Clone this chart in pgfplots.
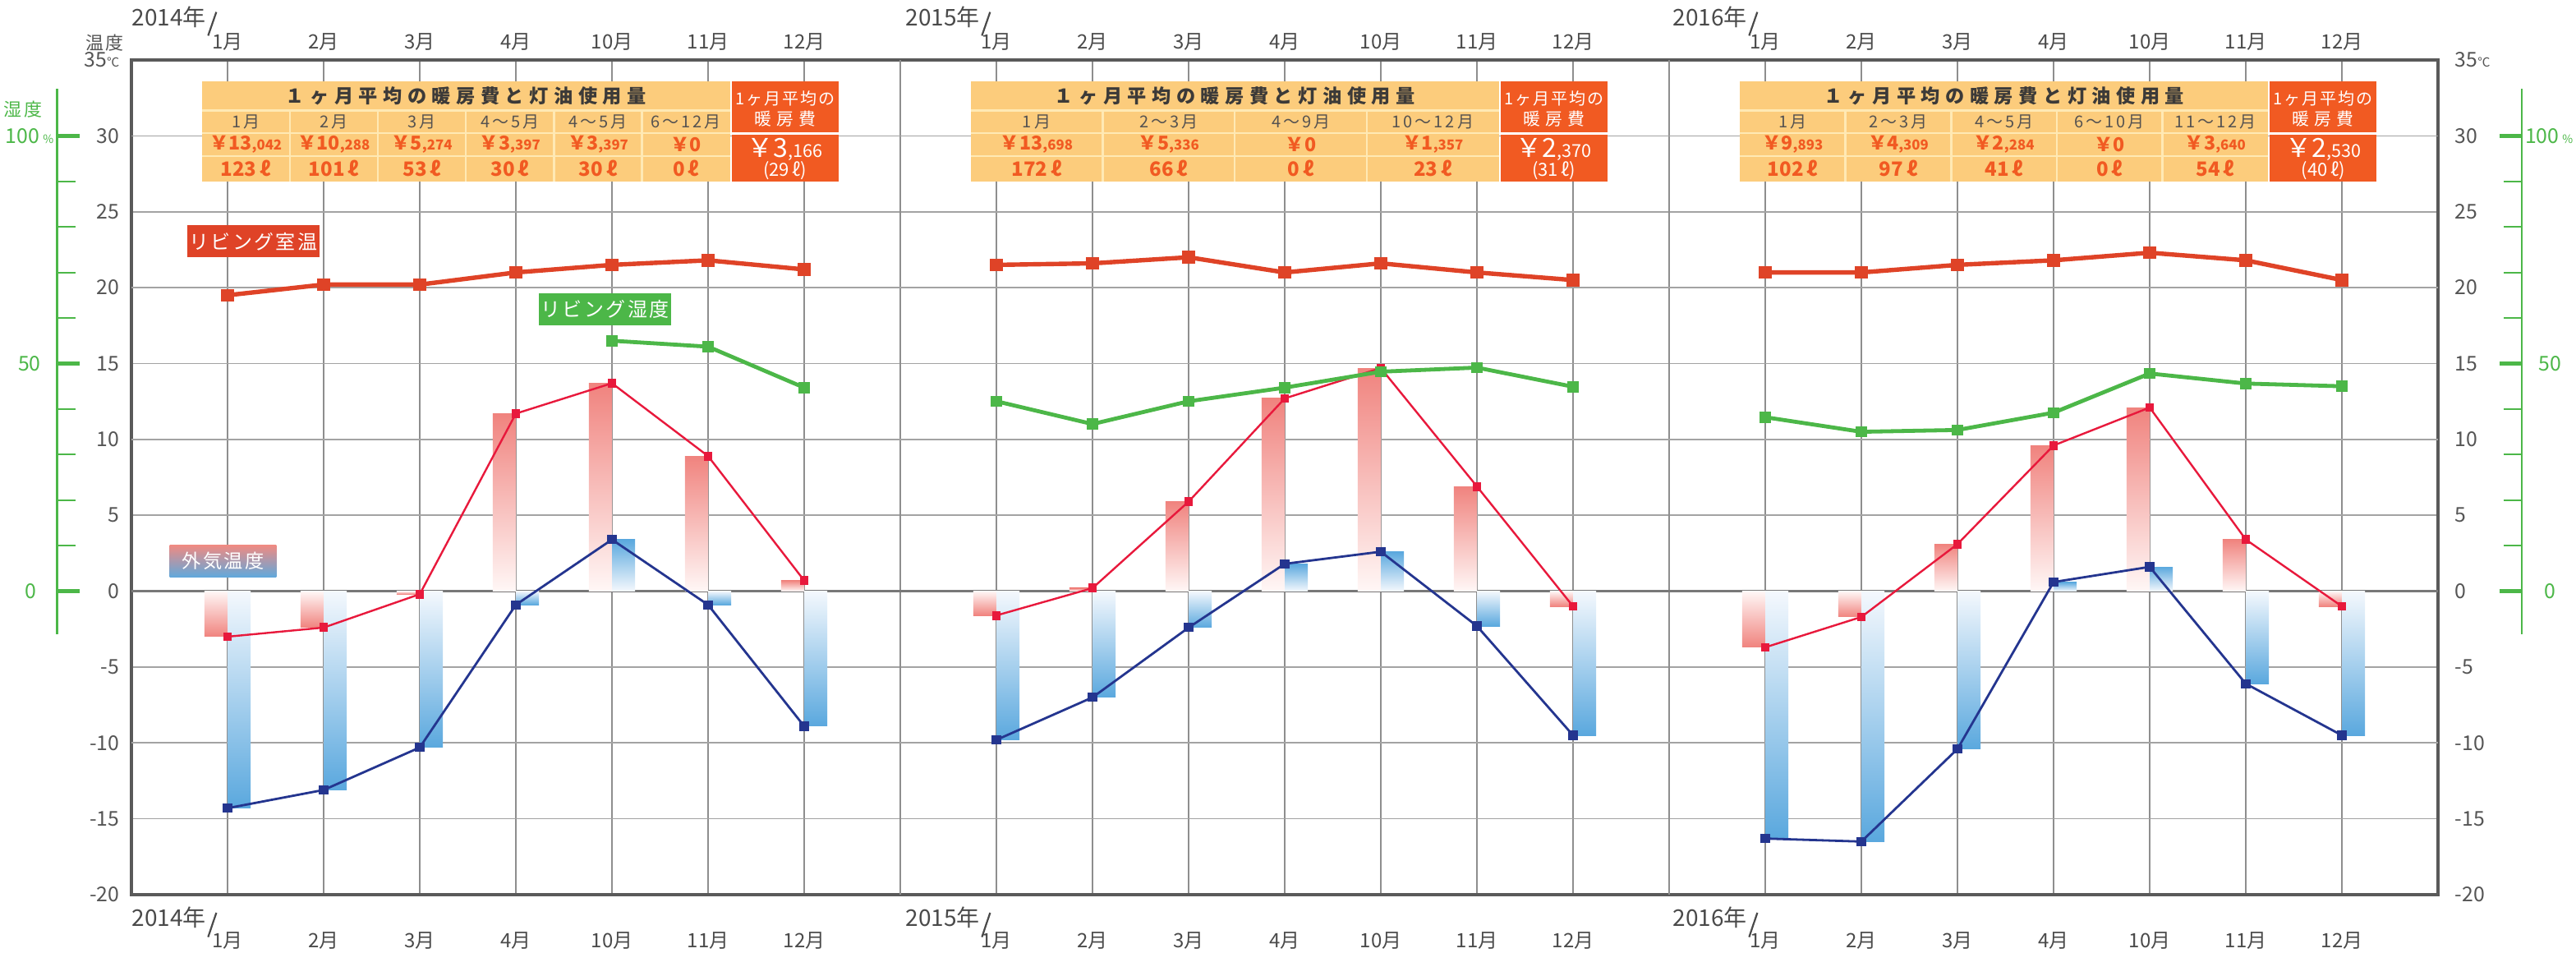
\documentclass[border=0pt]{standalone}
\usepackage{pgfplots}
\pgfplotsset{compat=1.18}
\usepackage{pgfplotstable}
\usepackage{fontspec}
\setmainfont{Noto Sans CJK JP}
\newfontfamily\jpls[LetterSpace=10]{Noto Sans CJK JP}
\newfontfamily\jptitle[LetterSpace=28]{Noto Sans CJK JP}
\newfontfamily\jpwide[LetterSpace=30]{Noto Sans CJK JP}
\newfontfamily\jpsp[LetterSpace=15]{Noto Sans CJK JP}

\definecolor{roomc}{HTML}{DF4327}
\definecolor{humc}{HTML}{4CB748}
\definecolor{hic}{HTML}{E8193C}
\definecolor{loc}{HTML}{24358F}
\definecolor{rbar}{HTML}{F0837E}
\definecolor{rbarl}{HTML}{FFF7F6}
\definecolor{bbar}{HTML}{5AA8DE}
\definecolor{bbarl}{HTML}{F4F8FD}
\definecolor{tan}{HTML}{FCCC7C}
\definecolor{tanl}{HTML}{FFE9B4}
\definecolor{dor}{HTML}{F15A22}
\definecolor{titlec}{HTML}{3C3A38}
\definecolor{headc}{HTML}{555250}
\definecolor{tickc}{HTML}{555555}
\definecolor{monc}{HTML}{4A4A4A}
\definecolor{gridc}{HTML}{8E8E8E}
\definecolor{gridl}{HTML}{A3A3A3}
\definecolor{gridd}{HTML}{787878}
\definecolor{framec}{HTML}{5A5A5A}
\definecolor{gradr}{HTML}{F08A82}
\definecolor{gradb}{HTML}{5EA9DD}

\tikzset{
 rpos/.style={top color=rbar, bottom color=rbarl},
 rneg/.style={top color=rbarl, bottom color=rbar},
 bpos/.style={top color=bbar, bottom color=bbarl},
 bneg/.style={top color=bbarl, bottom color=bbar},
}

% x: month slot, room: living room temp, hi/lo: outdoor temps, hum: living humidity (%)
\pgfplotstableread{
x room hi lo hum
1 19.5 -3.0 -14.3 nan
2 20.2 -2.4 -13.1 nan
3 20.2 -0.2 -10.3 nan
4 21.0 11.7 -0.9 nan
5 21.5 13.7 3.4 55.0
6 21.8 8.9 -0.9 53.7
7 21.2 0.7 -8.9 44.7
}\dA
\pgfplotstableread{
x room hi lo hum
9 21.5 -1.6 -9.8 41.7
10 21.6 0.2 -7.0 36.7
11 22.0 5.9 -2.4 41.7
12 21.0 12.7 1.8 44.7
13 21.6 14.7 2.6 48.2
14 21.0 6.9 -2.3 49.1
15 20.5 -1.0 -9.5 44.9
}\dB
\pgfplotstableread{
x room hi lo hum
17 21.0 -3.7 -16.3 38.2
18 21.0 -1.7 -16.5 35.0
19 21.5 3.1 -10.4 35.4
20 21.8 9.6 0.6 39.2
21 22.3 12.1 1.6 47.8
22 21.8 3.4 -6.1 45.6
23 20.5 -1.0 -9.5 45.0
}\dC

% one shaded bar pair per month: #2 is an x range that picks that row
\newcommand{\Bars}[4]{%
 \addplot[ybar, bar width=0.24, bar shift=-0.12, draw=none, restrict x to domain=#2, #3] table[x=x,y=hi]{#1};
 \addplot[ybar, bar width=0.24, bar shift=0.12, draw=none, restrict x to domain=#2, #4] table[x=x,y=lo]{#1};
}

\newcommand{\InfoBox}[6]{%
\begin{scope}[shift={(#1)}]
 \fill[tan] (0,0) rectangle (160.8pt,-30.5pt);
 \fill[dor] (161.3pt,0) rectangle (193.8pt,-30.5pt);
 \draw[tanl, line width=0.6pt] (0,-8.9pt) -- (160.8pt,-8.9pt) (0,-15.85pt) -- (160.8pt,-15.85pt) (0,-22.8pt) -- (160.8pt,-22.8pt);
 \draw[white, line width=0.7pt] (161.3pt,-15.85pt) -- (193.8pt,-15.85pt);
 \node[text=titlec, inner sep=0pt, font=\jptitle\bfseries\fontsize{5.8}{6}\selectfont] at (80.4pt,-4.45pt) {１ヶ月平均の暖房費と灯油使用量};
 \foreach \h/\a/\b/\l [count=\i] in {#3} {
   \pgfmathsetmacro{\xc}{(\i-0.5)*#2}
   \pgfmathsetmacro{\xs}{(\i-1)*#2}
   \ifnum\i>1 \draw[tanl, line width=0.6pt] (\xs pt,-8.9pt) -- (\xs pt,-30.5pt);\fi
   \node[text=headc, inner sep=0pt, font=\jpsp\fontsize{5}{5}\selectfont] at (\xc pt,-12.4pt) {\h};
   \node[text=dor, inner sep=0pt, font=\bfseries\fontsize{5.8}{6}\selectfont] at (\xc pt,-19.3pt) {￥\a{\fontsize{4.2}{5}\selectfont\b}};
   \node[text=dor, inner sep=0pt, font=\bfseries\fontsize{6}{6}\selectfont] at (\xc pt,-26.6pt) {\l\,ℓ};
 }
 \node[text=white, inner sep=0pt, font=\jpls\fontsize{5}{5}\selectfont] at (177.55pt,-5.25pt) {1ヶ月平均の};
 \node[text=white, inner sep=0pt, font=\jpwide\fontsize{5.2}{5}\selectfont] at (177.55pt,-11.5pt) {暖房費};
 \node[text=white, inner sep=0pt, font=\fontsize{8}{8}\selectfont] at (177.55pt,-20.75pt) {￥#4{\fontsize{5.4}{5}\selectfont #5}};
 \node[text=white, inner sep=0pt, font=\fontsize{5.5}{6}\selectfont] at (177.55pt,-27.25pt) {(#6\,ℓ)};
\end{scope}}

\pgfplotsset{base/.style={at={(0,0)}, anchor=south west, scale only axis,
  width=702pt, height=254pt, xmin=0, xmax=24, ymin=-20, ymax=35,
  tick style={draw=none}, major tick length=0pt,
  ticklabel style={font=\fontsize{6.2}{7}\selectfont, text=tickc}}}

\begin{document}
\begin{tikzpicture}
\path[use as bounding box] (-40pt,-17.5pt) rectangle (744pt,272.25pt);

% ---------- main axis ----------
\begin{axis}[base, clip=false,
  axis line style={framec, line width=0.8pt},
  xtick={1,2,3,4,5,6,7,9,10,11,12,13,14,15,17,18,19,20,21,22,23},
  xticklabels={1月,2月,3月,4月,10月,11月,12月,1月,2月,3月,4月,10月,11月,12月,1月,2月,3月,4月,10月,11月,12月},
  xticklabel style={anchor=center, yshift=-14pt, font=\fontsize{6}{7}\selectfont, text=monc},
  ytick={-20,-15,-10,-5,0,5,10,15,20,25,30,35},
  yticklabels={-20,-15,-10,-5,0,5,10,15,20,25,30,{35{\fontsize{3.8}{4}\selectfont ℃}}},
  yticklabel style={anchor=east, inner sep=0pt, xshift=-3.5pt},
  xmajorgrids, ymajorgrids,
  x grid style={gridc, line width=0.35pt},
  y grid style={gridl, line width=0.4pt},
  extra x ticks={8,16}, extra x tick labels={}, extra x tick style={grid style={framec, line width=0.6pt}},
  extra y ticks={-10,10,20,30}, extra y tick labels={}, extra y tick style={grid style={gridd, line width=0.4pt}},
]
\draw[gridd, line width=0.75pt] (axis cs:0,0) -- (axis cs:24,0);
\Bars{\dA}{0.9:1.1}{rneg}{bneg}
\Bars{\dA}{1.9:2.1}{rneg}{bneg}
\Bars{\dA}{2.9:3.1}{rneg}{bneg}
\Bars{\dA}{3.9:4.1}{rpos}{bneg}
\Bars{\dA}{4.9:5.1}{rpos}{bpos}
\Bars{\dA}{5.9:6.1}{rpos}{bneg}
\Bars{\dA}{6.9:7.1}{rpos}{bneg}
\Bars{\dB}{8.9:9.1}{rneg}{bneg}
\Bars{\dB}{9.9:10.1}{rpos}{bneg}
\Bars{\dB}{10.9:11.1}{rpos}{bneg}
\Bars{\dB}{11.9:12.1}{rpos}{bpos}
\Bars{\dB}{12.9:13.1}{rpos}{bpos}
\Bars{\dB}{13.9:14.1}{rpos}{bneg}
\Bars{\dB}{14.9:15.1}{rneg}{bneg}
\Bars{\dC}{16.9:17.1}{rneg}{bneg}
\Bars{\dC}{17.9:18.1}{rneg}{bneg}
\Bars{\dC}{18.9:19.1}{rpos}{bneg}
\Bars{\dC}{19.9:20.1}{rpos}{bpos}
\Bars{\dC}{20.9:21.1}{rpos}{bpos}
\Bars{\dC}{21.9:22.1}{rpos}{bneg}
\Bars{\dC}{22.9:23.1}{rneg}{bneg}

\addplot[hic, line width=0.6pt, mark=square*, mark size=1.05pt] table[x=x,y=hi]{\dA};
\addplot[hic, line width=0.6pt, mark=square*, mark size=1.05pt] table[x=x,y=hi]{\dB};
\addplot[hic, line width=0.6pt, mark=square*, mark size=1.05pt] table[x=x,y=hi]{\dC};
\addplot[loc, line width=0.7pt, mark=square*, mark size=1.05pt] table[x=x,y=lo]{\dA};
\addplot[loc, line width=0.7pt, mark=square*, mark size=1.05pt] table[x=x,y=lo]{\dB};
\addplot[loc, line width=0.7pt, mark=square*, mark size=1.05pt] table[x=x,y=lo]{\dC};
\addplot[roomc, line width=1.35pt, mark=square*, mark size=1.25pt] table[x=x,y=room]{\dA};
\addplot[roomc, line width=1.35pt, mark=square*, mark size=1.25pt] table[x=x,y=room]{\dB};
\addplot[roomc, line width=1.35pt, mark=square*, mark size=1.25pt] table[x=x,y=room]{\dC};

\node[fill=roomc, text=white, inner sep=0pt, minimum width=40.3pt, minimum height=9.8pt, font=\jpls\fontsize{6}{6}\selectfont] at (axis cs:1.268,23.05) {リビング室温};
\node[fill=humc, text=white, inner sep=0pt, minimum width=40.3pt, minimum height=9.9pt, font=\jpls\fontsize{6}{6}\selectfont] at (axis cs:4.928,18.57) {リビング湿度};
\node[top color=gradr, bottom color=gradb, text=white, inner sep=0pt, minimum width=32.4pt, minimum height=9.9pt, font=\jpls\fontsize{5.8}{6}\selectfont] at (axis cs:0.953,1.97) {外気温度};

\coordinate (b1) at (axis cs:0.7316,33.6);
\coordinate (b2) at (axis cs:8.7316,33.6);
\coordinate (b3) at (axis cs:16.735,33.6);

% year labels top and bottom
\node[anchor=base west, inner sep=0pt, text=monc, font=\fontsize{7}{7}\selectfont] (t1) at ([yshift=10.4pt]axis cs:0,35) {2014年};
\node[anchor=base west, inner sep=0pt, text=monc, font=\fontsize{7}{7}\selectfont] (t2) at ([xshift=1.5pt,yshift=10.4pt]axis cs:8,35) {2015年};
\node[anchor=base west, inner sep=0pt, text=monc, font=\fontsize{7}{7}\selectfont] (t3) at ([xshift=1pt,yshift=10.4pt]axis cs:16,35) {2016年};
\node[anchor=base west, inner sep=0pt, text=monc, font=\fontsize{7}{7}\selectfont] (u1) at ([yshift=-9.5pt]axis cs:0,-20) {2014年};
\node[anchor=base west, inner sep=0pt, text=monc, font=\fontsize{7}{7}\selectfont] (u2) at ([xshift=1.5pt,yshift=-9.5pt]axis cs:8,-20) {2015年};
\node[anchor=base west, inner sep=0pt, text=monc, font=\fontsize{7}{7}\selectfont] (u3) at ([xshift=1pt,yshift=-9.5pt]axis cs:16,-20) {2016年};
\draw[monc, line width=0.55pt] ([xshift=0.4pt,yshift=-3pt]t1.base east) -- ([xshift=2.9pt,yshift=4.2pt]t1.base east);
\draw[monc, line width=0.55pt] ([xshift=0.4pt,yshift=-3pt]t2.base east) -- ([xshift=2.9pt,yshift=4.2pt]t2.base east);
\draw[monc, line width=0.55pt] ([xshift=0.4pt,yshift=-3pt]t3.base east) -- ([xshift=2.9pt,yshift=4.2pt]t3.base east);
\draw[monc, line width=0.55pt] ([xshift=0.4pt,yshift=-3.4pt]u1.base east) -- ([xshift=2.9pt,yshift=4.0pt]u1.base east);
\draw[monc, line width=0.55pt] ([xshift=0.4pt,yshift=-3.4pt]u2.base east) -- ([xshift=2.9pt,yshift=4.0pt]u2.base east);
\draw[monc, line width=0.55pt] ([xshift=0.4pt,yshift=-3.4pt]u3.base east) -- ([xshift=2.9pt,yshift=4.0pt]u3.base east);
\node[text=tickc, inner sep=0pt, font=\jpls\fontsize{5.5}{6}\selectfont] at ([xshift=-8.1pt,yshift=5.2pt]axis cs:0,35) {温度};
\end{axis}

% ---------- top / right labels ----------
\begin{axis}[base, axis line style={draw=none},
  xtick={1,2,3,4,5,6,7,9,10,11,12,13,14,15,17,18,19,20,21,22,23},
  xticklabels={1月,2月,3月,4月,10月,11月,12月,1月,2月,3月,4月,10月,11月,12月,1月,2月,3月,4月,10月,11月,12月},
  xticklabel pos=upper,
  xticklabel style={anchor=center, yshift=5.6pt, font=\fontsize{6}{7}\selectfont, text=monc},
  ytick={-20,-15,-10,-5,0,5,10,15,20,25,30,35},
  yticklabels={-20,-15,-10,-5,0,5,10,15,20,25,30,{35{\fontsize{3.8}{4}\selectfont ℃}}},
  yticklabel pos=right,
  yticklabel style={anchor=west, inner sep=0pt, xshift=5pt},
]
\addplot[draw=none] coordinates {(0,0)};
\end{axis}

% ---------- humidity axis ----------
\begin{axis}[base, ymin=-66.6667, ymax=116.6667, hide axis, clip=false]
\addplot[humc, line width=1.2pt, mark=square*, mark size=1.1pt] table[x=x,y=hum]{\dA};
\addplot[humc, line width=1.2pt, mark=square*, mark size=1.1pt] table[x=x,y=hum]{\dB};
\addplot[humc, line width=1.2pt, mark=square*, mark size=1.1pt] table[x=x,y=hum]{\dC};
% left scale
\draw[humc, line width=0.7pt] ([xshift=-22.65pt]axis cs:0,-9.5) -- ([xshift=-22.65pt]axis cs:0,110.3);
\pgfplotsinvokeforeach{0,50,100}{\draw[humc, line width=1.1pt] ([xshift=-22.65pt]axis cs:0,#1) -- ([xshift=-15.85pt]axis cs:0,#1);}
\pgfplotsinvokeforeach{10,20,30,40,60,70,80,90}{\draw[humc, line width=0.5pt] ([xshift=-22.65pt]axis cs:0,#1) -- ([xshift=-17.05pt]axis cs:0,#1);}
\node[text=humc, inner sep=0pt, font=\fontsize{6.2}{7}\selectfont] at ([xshift=-31pt]axis cs:0,100) {100\,{\fontsize{3.5}{4}\selectfont\%}};
\node[text=humc, inner sep=0pt, font=\fontsize{6.2}{7}\selectfont] at ([xshift=-31pt]axis cs:0,50) {50};
\node[text=humc, inner sep=0pt, font=\fontsize{6.2}{7}\selectfont] at ([xshift=-30.65pt]axis cs:0,0) {0};
\node[text=humc, inner sep=0pt, font=\jpls\fontsize{5.5}{6}\selectfont] at ([xshift=-33pt]axis cs:0,105.8) {湿度};
% right scale
\draw[humc, line width=0.7pt] ([xshift=25.5pt]axis cs:24,-9.5) -- ([xshift=25.5pt]axis cs:24,110.3);
\pgfplotsinvokeforeach{0,50,100}{\draw[humc, line width=1.1pt] ([xshift=25.5pt]axis cs:24,#1) -- ([xshift=18.8pt]axis cs:24,#1);}
\pgfplotsinvokeforeach{10,20,30,40,60,70,80,90}{\draw[humc, line width=0.5pt] ([xshift=25.5pt]axis cs:24,#1) -- ([xshift=19.9pt]axis cs:24,#1);}
\node[anchor=west, text=humc, inner sep=0pt, font=\fontsize{6.2}{7}\selectfont] at ([xshift=26.3pt]axis cs:24,100) {100\,{\fontsize{3.5}{4}\selectfont\%}};
\node[text=humc, inner sep=0pt, font=\fontsize{6.2}{7}\selectfont] at ([xshift=34pt]axis cs:24,50) {50};
\node[text=humc, inner sep=0pt, font=\fontsize{6.2}{7}\selectfont] at ([xshift=34pt]axis cs:24,0) {0};
\end{axis}

% ---------- info boxes ----------
\InfoBox{b1}{26.8}{1月/13/{,}042/123, 2月/10/{,}288/101, 3月/5/{,}274/53, 4～5月/3/{,}397/30, 4～5月/3/{,}397/30, 6～12月/0//0}{3}{,166}{29}
\InfoBox{b2}{40.2}{1月/13/{,}698/172, 2～3月/5/{,}336/66, 4～9月/0//0, 10～12月/1/{,}357/23}{2}{,370}{31}
\InfoBox{b3}{32.16}{1月/9/{,}893/102, 2～3月/4/{,}309/97, 4～5月/2/{,}284/41, 6～10月/0//0, 11～12月/3/{,}640/54}{2}{,530}{40}
\end{tikzpicture}
\end{document}
